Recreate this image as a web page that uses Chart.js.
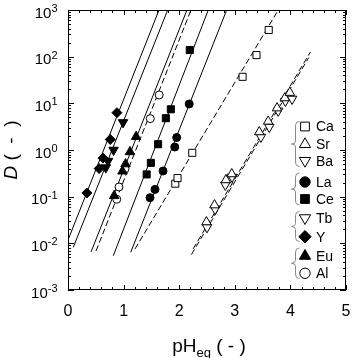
<!DOCTYPE html>
<html><head><meta charset="utf-8">
<script src="https://cdn.jsdelivr.net/npm/chart.js@4/dist/chart.umd.min.js"></script>
<style>html,body{margin:0;padding:0;background:#fff;}#wrap{width:355px;height:358px;}</style>
</head><body><div id="wrap"><canvas id="c" width="355" height="358"></canvas></div>
<script>
// ---------- DATA ----------
const elements = ['Ca','Sr','Ba','La','Ce','Tb','Y','Eu','Al'];
const Ca_pH = [1.93, 1.97, 2.235, 3.14, 3.39, 3.61];
const Ca_D  = [0.19, 0.25, 0.87, 37, 108, 373];
const Sr_pH = [2.49, 2.635, 2.84, 2.945, 3.44, 3.60, 3.76, 3.90, 3.99];
const Sr_D  = [0.0286, 0.066, 0.228, 0.306, 2.43, 4.1, 7.9, 13, 17];
const Ba_pH = [2.50, 2.645, 2.83, 2.95, 3.47, 3.62, 3.78, 3.91, 4.03];
const Ba_D  = [0.022, 0.054, 0.178, 0.264, 1.9, 3.1, 6.9, 11.2, 12.4];
const La_pH = [1.475, 1.565, 1.71, 1.92, 1.955, 2.18];
const La_D  = [0.095, 0.143, 0.355, 1.16, 1.85, 9.7];
const Ce_pH = [1.415, 1.49, 1.62, 1.76, 1.85, 2.19];
const Ce_D  = [0.30, 0.53, 1.33, 4.8, 7.45, 139];
const Tb_pH = [0.68, 0.72, 0.82, 0.99];
const Tb_D  = [0.42, 0.58, 1.0, 3.9];
const Y_pH  = [0.34, 0.56, 0.63, 0.76, 0.88];
const Y_D   = [0.12, 0.40, 0.67, 1.68, 6.3];
const Eu_pH = [0.83, 0.98, 1.035, 1.115, 1.225];
const Eu_D  = [0.104, 0.35, 0.50, 0.91, 1.93];
const Al_pH = [0.876, 0.917, 1.025, 1.48, 1.64];
const Al_D  = [0.088, 0.161, 0.395, 4.7, 15.1];

// fitted lines: start/end pH and log10 D
const fitNames   = ['Y','Tb','Eu','Al','Ce','La','Ca','Sr','Ba'];
const fitPHStart = [0,     0.095, 0.414, 0.504, 0.815, 1.128, 1.205, 2.25, 2.22];
const fitPHEnd   = [1.637, 1.793, 2.14,  2.212, 2.523, 2.854, 3.782, 4.36, 4.33];
const fitLogStart= [-1.93, -2.085,-2.185,-2.164,-2.265,-2.192,-2.121,-2.12,-2.24];
const fitLogEnd  = [3, 3, 3, 3, 3, 3, 3, 2.10, 1.98];
const fitDashed  = [false,false,false,true,false,false,true,true,true];

const xTicks = [0,1,2,3,4,5];
const yExp = [-3,-2,-1,0,1,2,3];

// ---------- STYLES ----------
const FONT = "'Liberation Sans', Arial, sans-serif";
const markerStyle = {
  Ca:{shape:'rect', fill:false, r:5}, Sr:{shape:'triangle', fill:false, r:5.5},
  Ba:{shape:'triangleDown', fill:false, r:5.5}, La:{shape:'circle', fill:true, r:4},
  Ce:{shape:'rect', fill:true, r:5}, Tb:{shape:'triangleDown', fill:true, r:5.5},
  Y:{shape:'rectRot', fill:true, r:5}, Eu:{shape:'triangle', fill:true, r:5.5},
  Al:{shape:'circle', fill:false, r:4}
};
const legendStyle = {
  Ca:{shape:'rect', fill:false, r:6.2}, Sr:{shape:'triangle', fill:false, r:6.5},
  Ba:{shape:'triangleDown', fill:false, r:6.5}, La:{shape:'circle', fill:true, r:5.2},
  Ce:{shape:'rect', fill:true, r:6.2}, Tb:{shape:'triangleDown', fill:false, r:6.5},
  Y:{shape:'rectRot', fill:true, r:6.2}, Eu:{shape:'triangle', fill:true, r:6.5},
  Al:{shape:'circle', fill:false, r:5.2}
};
const legendY = [126.5,144.3,160.7,182,199,218,236.7,256,273.3];
const braceGroups = [[121.5,166.5],[173,205],[211.5,241.5],[248,278.5]];

const series = {Ca:[Ca_pH,Ca_D],Sr:[Sr_pH,Sr_D],Ba:[Ba_pH,Ba_D],La:[La_pH,La_D],Ce:[Ce_pH,Ce_D],
  Tb:[Tb_pH,Tb_D],Y:[Y_pH,Y_D],Eu:[Eu_pH,Eu_D],Al:[Al_pH,Al_D]};

const datasets = [];
elements.forEach(el => {
  const [px, dy] = series[el];
  const st = markerStyle[el];
  let ps = st.shape, rot = 0;
  if (ps === 'triangleDown') { ps = 'triangle'; rot = 180; }
  datasets.push({
    label: el, data: px.map((v,i)=>({x:v, y:dy[i]})),
    showLine:false, pointStyle:ps, rotation:rot, pointRadius:st.r,
    pointBackgroundColor: st.fill ? '#000' : '#fff', pointBorderColor:'#000', pointBorderWidth:1,
    order: 0
  });
});
fitNames.forEach((n,i) => {
  datasets.push({
    label: 'fit '+n,
    data: [{x:fitPHStart[i], y:Math.pow(10,fitLogStart[i])},{x:fitPHEnd[i], y:Math.pow(10,fitLogEnd[i])}],
    showLine:true, pointRadius:0, borderColor:'#000', borderWidth:1,
    borderDash: fitDashed[i] ? [6,3] : [], fill:false, order: 1
  });
});

function drawMarker(ctx, shape, x, y, r, filled) {
  ctx.beginPath();
  if (shape === 'circle') ctx.arc(x,y,r,0,Math.PI*2);
  else if (shape === 'rect') { const s=r*Math.SQRT1_2; ctx.rect(x-s,y-s,2*s,2*s); }
  else if (shape === 'rectRot') { ctx.moveTo(x-r,y); ctx.lineTo(x,y-r); ctx.lineTo(x+r,y); ctx.lineTo(x,y+r); ctx.closePath(); }
  else if (shape === 'triangle') { ctx.moveTo(x,y-r); ctx.lineTo(x+0.866*r,y+0.5*r); ctx.lineTo(x-0.866*r,y+0.5*r); ctx.closePath(); }
  else if (shape === 'triangleDown') { ctx.moveTo(x,y+r); ctx.lineTo(x+0.866*r,y-0.5*r); ctx.lineTo(x-0.866*r,y-0.5*r); ctx.closePath(); }
  ctx.fillStyle = filled ? '#000' : '#fff'; ctx.fill();
  ctx.strokeStyle = '#000'; ctx.lineWidth = 1; ctx.stroke();
}

const decor = {
  id:'decor',
  afterDraw(chart) {
    const ctx = chart.ctx, a = chart.chartArea, xs = chart.scales.x, ys = chart.scales.y;
    ctx.save();
    ctx.strokeStyle = '#000'; ctx.lineWidth = 1;
    // frame
    ctx.strokeRect(Math.round(a.left)+0.5, Math.round(a.top)+0.5, Math.round(a.right-a.left)-1, Math.round(a.bottom-a.top)-1);
    ctx.beginPath();
    // x ticks
    for (let k=0;k<=25;k++) {
      const v = k*0.2; const px = Math.round(xs.getPixelForValue(v))+0.5;
      const len = (k%5===0) ? 5 : 3;
      ctx.moveTo(px, a.bottom); ctx.lineTo(px, a.bottom-len);
      ctx.moveTo(px, a.top); ctx.lineTo(px, a.top+len);
    }
    // y ticks
    for (let e=-3;e<=3;e++) {
      for (let m=1;m<=9;m++) {
        if (e===3 && m>1) break;
        const v = m*Math.pow(10,e); const py = Math.round(ys.getPixelForValue(v))+0.5;
        const len = (m===1) ? 6 : 3;
        ctx.moveTo(a.left, py); ctx.lineTo(a.left+len, py);
        ctx.moveTo(a.right, py); ctx.lineTo(a.right-len, py);
      }
    }
    ctx.stroke();
    // x tick labels
    ctx.fillStyle = '#000';
    ctx.font = '16px '+FONT; ctx.textAlign='center'; ctx.textBaseline='alphabetic';
    xTicks.forEach(v => ctx.fillText(String(v), xs.getPixelForValue(v), 316));
    // y tick labels: 10^e
    yExp.forEach(e => {
      const py = ys.getPixelForValue(Math.pow(10,e));
      const ex = String(e);
      ctx.font = '11px '+FONT;
      const we = ctx.measureText(ex).width;
      ctx.font = '15px '+FONT;
      const wb = ctx.measureText('10').width;
      const right = 57.5;
      ctx.textAlign='left';
      ctx.fillText('10', right - we - wb, py + 7.5);
      ctx.font = '11px '+FONT;
      ctx.fillText(ex, right - we, py + 2);
    });
    // x title pH_eq ( - )
    ctx.textAlign='left';
    ctx.font = '19px '+FONT; const w1 = ctx.measureText('pH').width;
    ctx.font = '13px '+FONT; const w2 = ctx.measureText('eq').width;
    ctx.font = '19px '+FONT; const w3 = ctx.measureText(' ( - )').width;
    let sx = 209 - (w1+w2+w3)/2;
    ctx.font = '19px '+FONT; ctx.fillText('pH', sx, 352);
    ctx.font = '13px '+FONT; ctx.fillText('eq', sx+w1, 357);
    ctx.font = '19px '+FONT; ctx.fillText(' ( - )', sx+w1+w2, 352);
    // y title D ( - )
    ctx.save();
    ctx.translate(17, 150); ctx.rotate(-Math.PI/2);
    ctx.font = 'italic 19px '+FONT; const wd = ctx.measureText('D').width;
    ctx.font = '19px '+FONT; const wr = ctx.measureText(' (  -  )').width;
    const st = -(wd+wr)/2;
    ctx.font = 'italic 19px '+FONT; ctx.fillText('D', st, 0);
    ctx.font = '19px '+FONT; ctx.fillText(' (  -  )', st+wd, 0);
    ctx.restore();
    // legend
    elements.forEach((el,i) => {
      const s = legendStyle[el];
      drawMarker(ctx, s.shape, 305, legendY[i], s.r, s.fill);
      ctx.fillStyle = '#000'; ctx.font = '14px '+FONT; ctx.textAlign='left'; ctx.textBaseline='middle';
      ctx.fillText(el, 316, legendY[i]+1);
    });
    // braces
    ctx.strokeStyle = '#8a8a8a'; ctx.lineWidth = 1;
    braceGroups.forEach(([y1,y2]) => {
      const xm=295.5, xt=291.5, xe=299.5, ym=(y1+y2)/2;
      ctx.beginPath();
      ctx.moveTo(xe,y1); ctx.quadraticCurveTo(xm,y1,xm,y1+4);
      ctx.lineTo(xm,ym-3); ctx.quadraticCurveTo(xm,ym,xt,ym);
      ctx.quadraticCurveTo(xm,ym,xm,ym+3); ctx.lineTo(xm,y2-4);
      ctx.quadraticCurveTo(xm,y2,xe,y2);
      ctx.stroke();
    });
    ctx.restore();
  }
};

new Chart(document.getElementById('c'), {
  type:'scatter',
  data:{datasets},
  options:{
    responsive:false, devicePixelRatio:1, animation:false,
    layout:{padding:{left:68, top:10, right:9, bottom:68}},
    plugins:{legend:{display:false}, tooltip:{enabled:false}},
    scales:{
      x:{type:'linear', min:0, max:5, display:false},
      y:{type:'logarithmic', min:0.001, max:1000, display:false}
    }
  },
  plugins:[decor]
});
</script></body></html>
